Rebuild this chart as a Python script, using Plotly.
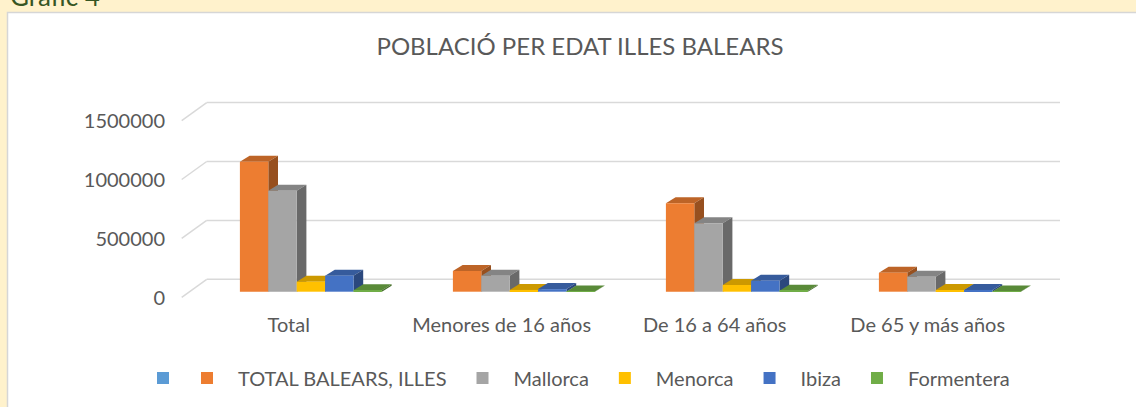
import plotly.graph_objects as go

# ---------------- data ----------------
categories = ["Total", "Menores de 16 años", "De 16 a 64 años", "De 65 y más años"]
series_names = [" ", "TOTAL BALEARS, ILLES", "Mallorca", "Menorca", "Ibiza", "Formentera"]
blank_series = [None, None, None, None]
total_baleares = [1104000, 176000, 751000, 161000]
mallorca = [857000, 136000, 581000, 127000]
menorca = [85000, 15000, 57000, 14000]
ibiza = [136000, 22000, 93000, 15000]
formentera = [12000, 2000, 9000, 1500]
y_tick_values = [0, 500000, 1000000, 1500000]
y_tick_labels = ["0", "500000", "1000000", "1500000"]

# ---------------- styles ----------------
series_values = [blank_series, total_baleares, mallorca, menorca, ibiza, formentera]
colors = ["#5B9BD5", "#ED7D31", "#A5A5A5", "#FFC000", "#4472C4", "#70AD47"]
FONT = "Lato, 'Open Sans', sans-serif"
TXT = "#595959"
GRID = "#D9D9D9"

W, H = 1136, 407
ML, MR, MT, MB = 166, 66, 90, 107
PW, PH = W - ML - MR, H - MT - MB

# pixel geometry of the pseudo-3D scene
CAT0_PX = 296.7          # pixel x of category 0 centre
PX_PER_CAT = 213.0
BASE_PX = 291.7          # pixel y of value 0 on bar plane
PX_PER_VAL = 58.9 / 500000
BARGAP = 0.2
DEPTH_DX, DEPTH_DY = 9.7, 6.0      # bar depth offset in px
WALL_DY = 12.4                      # back wall raised vs bar plane (px)
FRONT_DY = 5.6                      # front edge below bar plane (px)
WALL_LEFT_PX, WALL_RIGHT_PX, FRONT_LEFT_PX = 206.7, 1060.0, 181.7


def xdata(px):
    return (px - CAT0_PX) / PX_PER_CAT


def ydata_from_px_offset(dpx):
    return dpx / PX_PER_VAL


def paper_x(px):
    return (px - ML) / PW


def paper_y(py):
    return (MT + PH - py) / PH


x_range = [xdata(ML), xdata(ML + PW)]
y_range = [(BASE_PX - (MT + PH)) / PX_PER_VAL, (BASE_PX - MT) / PX_PER_VAL]

fig = go.Figure()
xs = list(range(len(categories)))
for k, (name, vals, col) in enumerate(zip(series_names, series_values, colors)):
    fig.add_trace(go.Bar(x=xs, y=vals, name=name, marker=dict(color=col, line=dict(width=0)),
                         legend="legend2" if k == 0 else "legend"))

shapes = []
# white chart box
shapes.append(dict(type="rect", xref="paper", yref="paper",
                   x0=paper_x(7.5), x1=paper_x(W + 5), y0=paper_y(H + 5), y1=paper_y(12.5),
                   fillcolor="white", line=dict(color="#D6D6D6", width=1.5), layer="below"))

# back-wall gridlines and left floor/side diagonals
wall_dy = ydata_from_px_offset(WALL_DY)
front_dy = ydata_from_px_offset(FRONT_DY)
for t in y_tick_values:
    shapes.append(dict(type="line", xref="x", yref="y", x0=xdata(WALL_LEFT_PX), x1=xdata(WALL_RIGHT_PX),
                       y0=t + wall_dy, y1=t + wall_dy, line=dict(color=GRID, width=1.5), layer="below"))
    shapes.append(dict(type="line", xref="x", yref="y", x0=xdata(WALL_LEFT_PX), x1=xdata(FRONT_LEFT_PX),
                       y0=t + wall_dy, y1=t - front_dy, line=dict(color=GRID, width=1.5), layer="below"))


def shade(hexcol, f):
    h = hexcol.lstrip("#")
    r, g, b = (int(h[i:i + 2], 16) for i in (0, 2, 4))
    return "#%02X%02X%02X" % (int(r * f), int(g * f), int(b * f))


n = len(series_values)
bw = (1 - BARGAP) / n
dxu = DEPTH_DX / PX_PER_CAT
dyu = ydata_from_px_offset(DEPTH_DY)
for k, (vals, col) in enumerate(zip(series_values, colors)):
    for i, v in enumerate(vals):
        if v is None:
            continue
        L = i - (1 - BARGAP) / 2 + k * bw
        R = L + bw
        top = f"M {L},{v} L {R},{v} L {R + dxu},{v + dyu} L {L + dxu},{v + dyu} Z"
        side = f"M {R},0 L {R},{v} L {R + dxu},{v + dyu} L {R + dxu},{dyu} Z"
        shapes.append(dict(type="path", xref="x", yref="y", path=top, fillcolor=shade(col, 0.8),
                           line=dict(width=0), layer="below"))
        shapes.append(dict(type="path", xref="x", yref="y", path=side, fillcolor=shade(col, 0.64),
                           line=dict(width=0), layer="below"))

LEG_Y = paper_y(378)
legend_common = dict(orientation="h", xanchor="left", y=LEG_Y, yanchor="middle",
                     font=dict(size=20, color=TXT), bgcolor="rgba(0,0,0,0)", traceorder="normal",
                     itemwidth=52)

fig.update_layout(
    width=W, height=H,
    margin=dict(l=ML, r=MR, t=MT, b=MB, pad=0, autoexpand=False),
    paper_bgcolor="#FFF2CC",
    plot_bgcolor="rgba(0,0,0,0)",
    barmode="group", bargap=BARGAP, bargroupgap=0,
    font=dict(family=FONT, color=TXT, size=20),
    title=dict(text="POBLACIÓ PER EDAT ILLES BALEARS", x=580 / W, xanchor="center",
               y=1 - 47 / H, yanchor="middle", font=dict(size=24, color=TXT, family=FONT)),
    xaxis=dict(range=x_range, tickvals=xs, ticktext=categories, showgrid=False, zeroline=False,
               showline=False, ticks="", ticklabelshift=-8, ticklabelstandoff=11,
               tickfont=dict(size=20, color=TXT), automargin=False),
    yaxis=dict(range=y_range, tickvals=y_tick_values, ticktext=y_tick_labels, showgrid=False,
               zeroline=False, showline=False, ticks="", ticklabelshift=6,
               tickfont=dict(size=20, color=TXT), automargin=False),
    legend=dict(x=paper_x(176), **legend_common),
    legend2=dict(x=paper_x(132), **legend_common),
    shapes=shapes,
    showlegend=True,
    annotations=[dict(text="Gràfic 4", xref="paper", yref="paper", x=paper_x(8), y=paper_y(14),
                      xanchor="left", yanchor="bottom", showarrow=False,
                      font=dict(size=26, color="#375623", family=FONT))],
)

fig.write_html("out.html", config={"displayModeBar": False},
               post_script="document.body.style.margin='0';document.body.style.overflow='hidden';")
